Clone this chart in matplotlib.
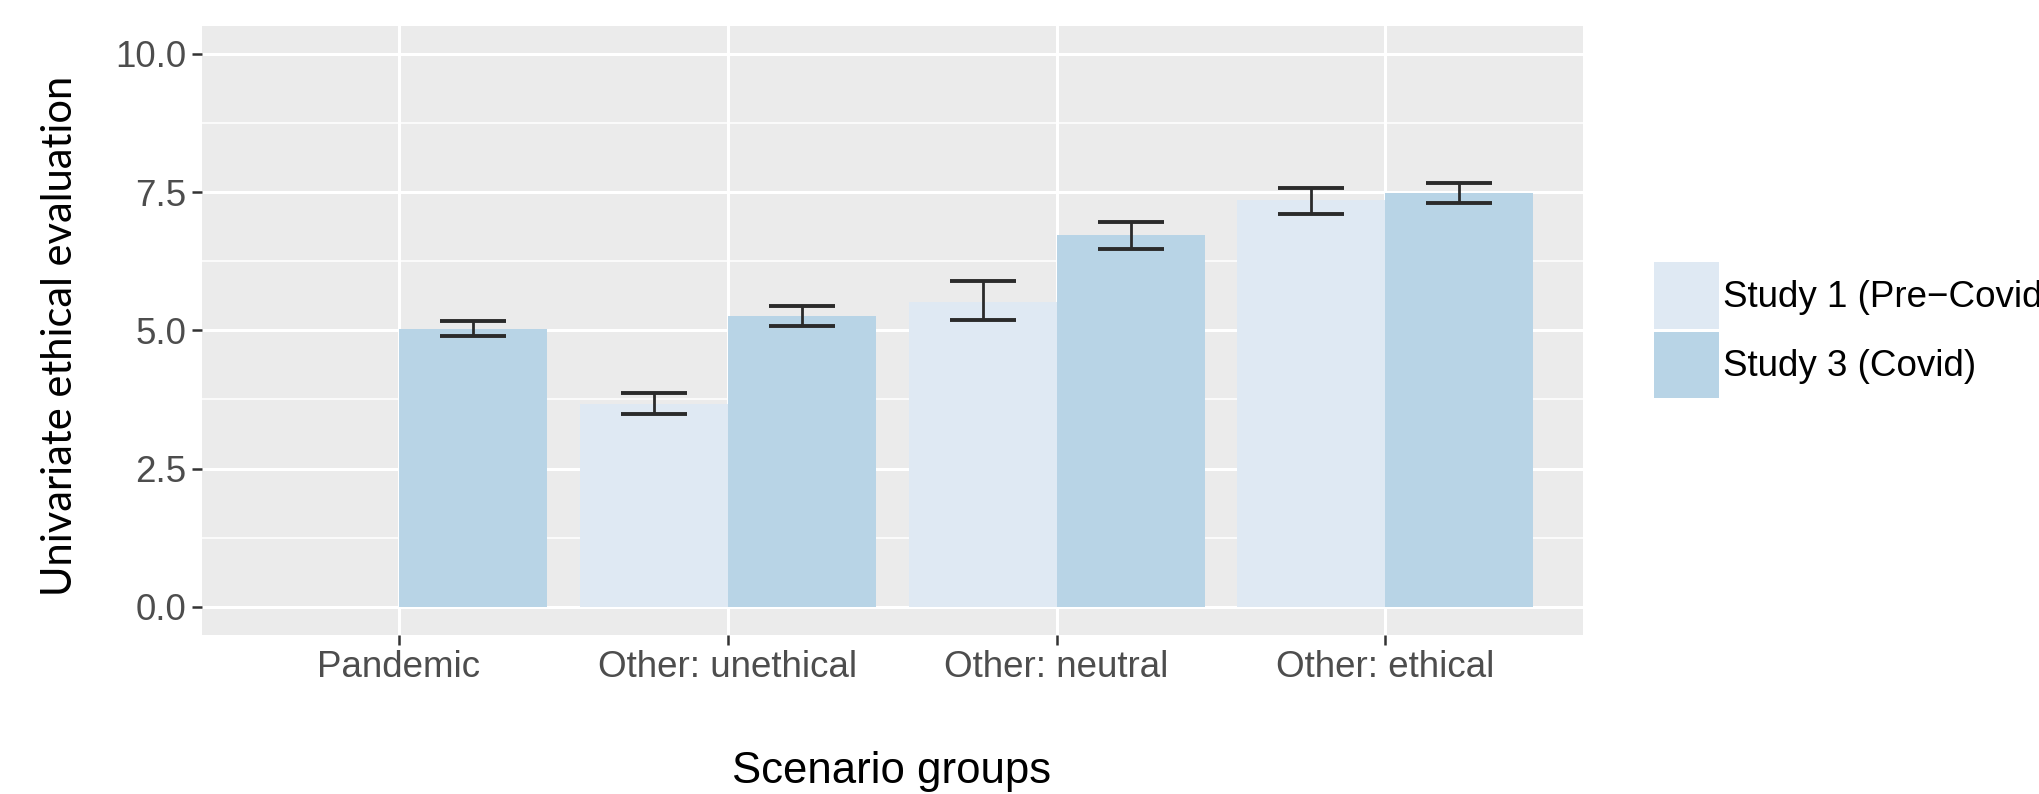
import matplotlib
matplotlib.use("Agg")
import matplotlib.pyplot as plt
import numpy as np
from matplotlib.patches import Patch
from matplotlib.ticker import MultipleLocator

groups = ["Pandemic", "Other: unethical", "Other: neutral", "Other: ethical"]
series = ["Study 1 (Pre\u2212Covid)", "Study 3 (Covid)"]

# mean, lower and upper error bound per group (Pandemic has no Study 1 value)
study1_mean = [np.nan, 3.67, 5.52, 7.35]
study1_low  = [np.nan, 3.48, 5.18, 7.11]
study1_high = [np.nan, 3.87, 5.90, 7.57]

study3_mean = [5.02, 5.26, 6.72, 7.49]
study3_low  = [4.89, 5.08, 6.47, 7.30]
study3_high = [5.16, 5.44, 6.96, 7.66]

colors = ["#dfe9f3", "#b8d4e6"]

fig = plt.figure(figsize=(20.39, 7.94), dpi=100)
ax = fig.add_axes([0.0989, 0.2008, 0.6773, 0.7664])
ax.set_facecolor("#ebebeb")
for s in ax.spines.values():
    s.set_visible(False)

x = np.arange(1, len(groups) + 1)
w = 0.45
means = [study1_mean, study3_mean]
lows = [study1_low, study3_low]
highs = [study1_high, study3_high]

for i in range(2):
    xi = x + (i - 0.5) * w
    m = np.array(means[i])
    ax.bar(xi, m, width=w, color=colors[i], zorder=2)
    err = [m - np.array(lows[i]), np.array(highs[i]) - m]
    ax.errorbar(xi, m, yerr=err, fmt="none", ecolor="#2b2b2b",
                elinewidth=2.0, capsize=23.5, capthick=2.8, zorder=3)

ax.set_xlim(0.4, 4.6)
ax.set_ylim(-0.5, 10.5)
ax.set_xticks(x)
ax.set_xticklabels(groups)
ax.yaxis.set_minor_locator(MultipleLocator(1.25))
ax.set_yticks([0, 2.5, 5, 7.5, 10])
ax.set_yticklabels(["%.1f" % v for v in [0, 2.5, 5, 7.5, 10]])

ax.grid(which="major", axis="both", color="white", linewidth=2.2, zorder=1)
ax.grid(which="minor", axis="y", color="white", linewidth=1.1, zorder=1)
ax.set_axisbelow(True)
ax.tick_params(which="minor", length=0)
ax.tick_params(which="major", length=7, width=1.8, color="#333333",
               labelsize=26.5, labelcolor="#4d4d4d", pad=4)
for lab in ax.get_xticklabels() + ax.get_yticklabels():
    lab.set_fontfamily("Liberation Sans")

fig.text(892 / 2039, 1 - 772 / 794, "Scenario groups", ha="center", va="center",
         fontsize=31.5, family="Liberation Sans", color="black")
fig.text(60 / 2039, 1 - 336 / 794, "Univariate ethical evaluation", rotation=90,
         ha="center", va="center", fontsize=30, family="Lato", color="black")

handles = [Patch(facecolor=c, edgecolor="none") for c in colors]
fig.legend(handles, series, loc="center left", bbox_to_anchor=(0.811, 0.584),
           frameon=False, prop={"family": "Liberation Sans", "size": 26.5},
           handlelength=1.78, handleheight=2.4, handletextpad=0.1,
           labelspacing=0.08, borderpad=0, borderaxespad=0)

fig.savefig("out.png", dpi=100)
